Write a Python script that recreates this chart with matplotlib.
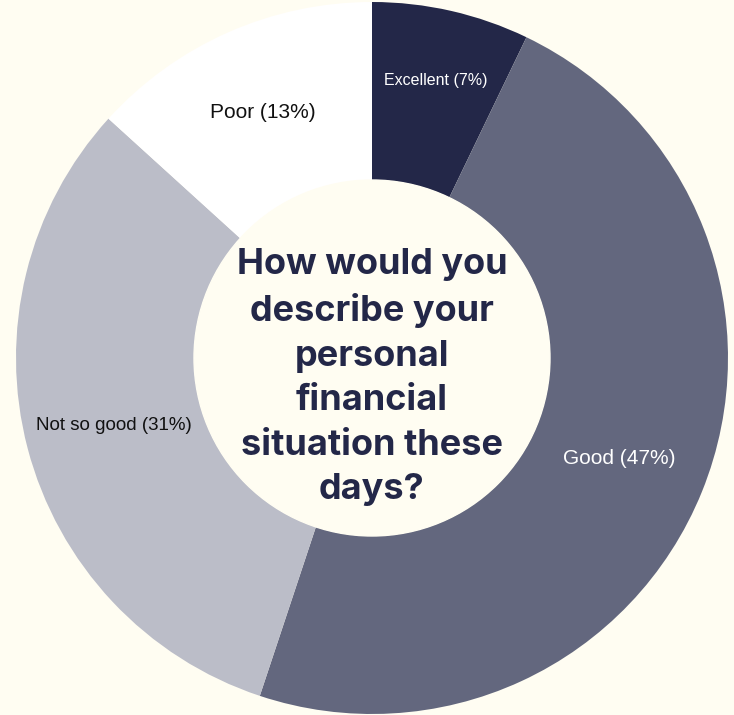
import matplotlib.pyplot as plt
import numpy as np

categories = ['Excellent', 'Good', 'Not so good', 'Poor']
shares = [7, 47, 31, 13]
question = 'How would you\ndescribe your\npersonal\nfinancial\nsituation these\ndays?'

colors = ['#232748', '#63677e', '#bbbdc8', '#ffffff']
text_colors = ['white', 'white', '#111111', '#111111']
label_sizes = [11.5, 15, 13.5, 15]
label_dist = [0.80, 0.75, 0.75, 0.755]
bg = '#fffdf2'

W, H = 734, 715
fig = plt.figure(figsize=(W / 100, H / 100), dpi=100, facecolor=bg)
ax = fig.add_axes([0, 0, 1, 1])
ax.set_facecolor(bg)

cx, cy = 372, H - 358
R = 356
wedges, _ = ax.pie(shares, colors=colors, startangle=90, counterclock=False,
                   center=(cx, cy), radius=R, frame=True,
                   wedgeprops=dict(width=R * 0.5, linewidth=0))
ax.set_xlim(0, W)
ax.set_ylim(0, H)
ax.set_aspect('equal')
ax.axis('off')

# labels sit on the middle angle of each wedge
for w, cat, val, tc, fs, d in zip(wedges, categories, shares, text_colors,
                                  label_sizes, label_dist):
    mid = np.deg2rad((w.theta1 + w.theta2) / 2)
    ax.text(cx + d * R * np.cos(mid), cy + d * R * np.sin(mid),
            f'{cat} ({val}%)', ha='center', va='center', color=tc,
            fontsize=fs, family='Liberation Sans')

ax.add_patch(plt.Circle((cx, cy), R * 0.5, color=bg, zorder=3))
ax.text(cx, H - 377, question, ha='center', va='center', color='#232748',
        fontsize=26, fontweight='bold', family='Inter', linespacing=1.44,
        zorder=4)

plt.savefig('out.png', dpi=100, facecolor=bg)
